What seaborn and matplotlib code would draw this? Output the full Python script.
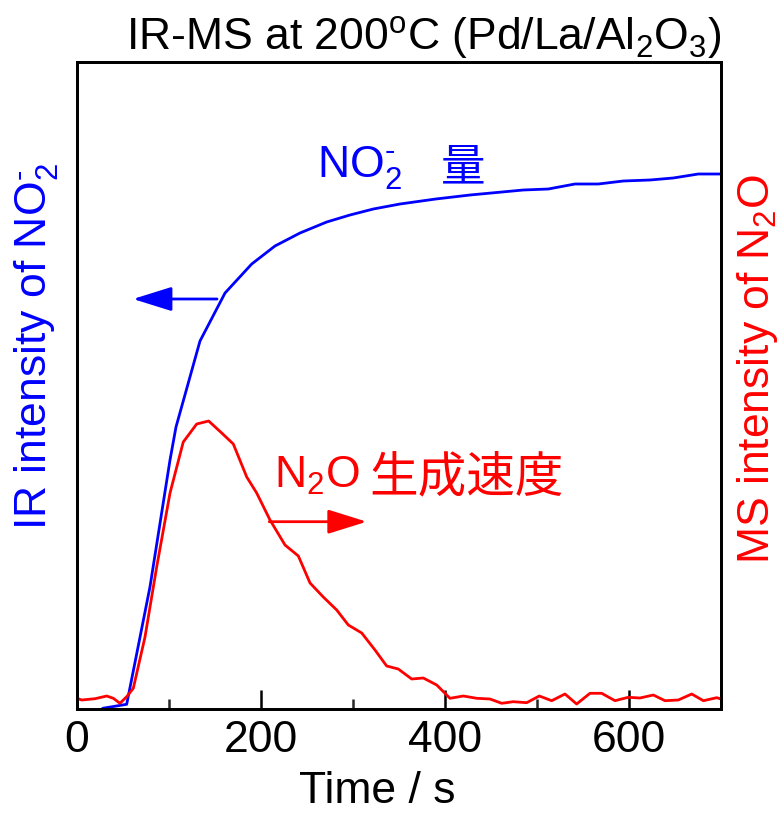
import matplotlib
matplotlib.use("Agg")
import matplotlib.pyplot as plt
import numpy as np
import pandas as pd
import seaborn as sns
from matplotlib.ticker import MultipleLocator, NullLocator

# ---- data (arbitrary intensity units) ----
no2_time = [27.9, 54.0, 79.3, 101.1, 107.6, 133.7, 160.9, 189.9, 215.2, 242.4,
            271.4, 296.7, 322.1, 351.1, 390.0, 427.2, 485.1, 512.3, 541.3, 566.6,
            593.8, 622.8, 648.1, 675.3, 698.9]
no2_ir = [0.7, 4.7, 122, 249, 282, 368, 416, 445, 463, 476,
          487, 494, 500, 505, 510, 514, 519, 520, 525, 525,
          528, 529, 531, 535, 535]

n2o_time = [0, 5.1, 19.6, 32.3, 39.5, 46.7, 54.0, 61.2, 73.9, 86.6,
            101.1, 115.5, 130.1, 143.1, 157.3, 169.9, 184.5, 195.3, 209.8, 226.1,
            240.6, 253.3, 267.7, 282.3, 294.9, 309.5, 323.9, 336.6, 349.2, 363.8,
            376.4, 391.0, 405.4, 419.9, 434.5, 448.9, 461.6, 474.2, 488.8, 502.5,
            516.0, 530.4, 543.1, 557.6, 570.3, 584.8, 599.2, 611.9, 626.4, 639.1,
            653.6, 668.2, 680.8, 695.3, 700.0]
n2o_ms = [10.7, 9, 10.3, 13, 10.7, 5.7, 12.3, 20.7, 72, 142,
          216, 267, 285, 288, 276, 265, 232, 216, 189, 164,
          153, 126, 112, 99, 84, 76, 59, 43, 40, 30,
          31, 24, 10.7, 13, 10.7, 10, 5.7, 7.3, 6.3, 13,
          8.3, 15, 5, 15.7, 15.7, 8.3, 11.7, 11, 14, 8.3,
          9, 15, 8.3, 11.3, 10]

x_ticks = [0, 200, 400, 600]
title = r"IR-MS at 200$^\mathrm{o}$C (Pd/La/Al$_2$O$_3$)"
x_label = "Time / s"
y_left_label = r"IR intensity of NO$_2^{\text{-}}$"
y_right_label = r"MS intensity of N$_2$O"

BLUE = "#0000FF"
RED = "#FF0000"

sns.set_theme(style="white")
plt.rcParams["font.family"] = ["Liberation Sans", "Noto Sans CJK JP", "DejaVu Sans"]
plt.rcParams["mathtext.fontset"] = "custom"
plt.rcParams["mathtext.rm"] = "Liberation Sans"
plt.rcParams["mathtext.it"] = "Liberation Sans:italic"
plt.rcParams["mathtext.bf"] = "Liberation Sans:bold"

W, H = 783, 813
fig = plt.figure(figsize=(W / 100, H / 100), dpi=100)
fig.patch.set_facecolor("white")

L, R, T, B = 77, 721, 62, 709
ax = fig.add_axes([L / W, 1 - B / H, (R - L) / W, (B - T) / H])
ax2 = ax.twinx()

df_no2 = pd.DataFrame({"time": no2_time, "val": no2_ir})
df_n2o = pd.DataFrame({"time": n2o_time, "val": n2o_ms})

sns.lineplot(data=df_no2, x="time", y="val", ax=ax, color=BLUE, linewidth=2.0)
sns.lineplot(data=df_n2o, x="time", y="val", ax=ax2, color=RED, linewidth=2.0)

for a in (ax, ax2):
    a.set_xlim(0, 700)
    a.set_ylim(0, 647)
    a.yaxis.set_major_locator(NullLocator())
    a.yaxis.set_minor_locator(NullLocator())
    a.set_ylabel("")
    a.set_xlabel("")
    a.set_facecolor("none")
    for s in a.spines.values():
        s.set_color("black")
        s.set_linewidth(2.0)
        s.set_visible(True)

ax.set_xticks(x_ticks)
ax.set_xticklabels([str(v) for v in x_ticks])
ax.xaxis.set_minor_locator(MultipleLocator(100))
ax.tick_params(axis="x", which="major", direction="in", length=14, width=1.8,
               labelsize=32, pad=8, colors="black", bottom=True, top=False)
ax.tick_params(axis="x", which="minor", direction="in", length=7, width=1.8,
               bottom=True, top=False)
ax2.tick_params(axis="x", which="both", bottom=False, top=False)

def px(x, y):
    return x / W, 1 - y / H

# title and axis labels
fig.text(*px(424, 50), title, ha="center", va="baseline", fontsize=32, color="black")
fig.text(*px(377, 803), x_label, ha="center", va="baseline", fontsize=32, color="black")
fig.text(*px(37, 347), y_left_label, ha="center", va="center", rotation=90,
         fontsize=32, color=BLUE)
fig.text(*px(757, 369), y_right_label, ha="center", va="center", rotation=90,
         fontsize=32, color=RED)

# in-plot annotations
fig.text(*px(317, 178), r"NO$_2^{\text{-}}$", ha="left", va="baseline", fontsize=32, color=BLUE)
fig.text(*px(485, 180), "量", ha="right", va="baseline", fontsize=32, color=BLUE,
         family=["Noto Sans CJK JP"])
fig.text(*px(274, 488), r"N$_2$O", ha="left", va="baseline", fontsize=32, color=RED)
fig.text(*px(564, 491), "生成速度", ha="right", va="baseline", fontsize=35, color=RED,
         family=["Noto Sans CJK JP"])

arrow_kw = dict(arrowstyle="-|>,head_length=2.4,head_width=0.75", lw=2.0,
                mutation_scale=10, shrinkA=0, shrinkB=0)
ax.annotate("", xy=(60.9, 410), xytext=(152.2, 410),
            arrowprops=dict(color=BLUE, **arrow_kw))
ax2.annotate("", xy=(314.9, 187.3), xytext=(209.0, 187.3),
             arrowprops=dict(color=RED, **arrow_kw))

fig.savefig("out.png", dpi=100, facecolor="white")
